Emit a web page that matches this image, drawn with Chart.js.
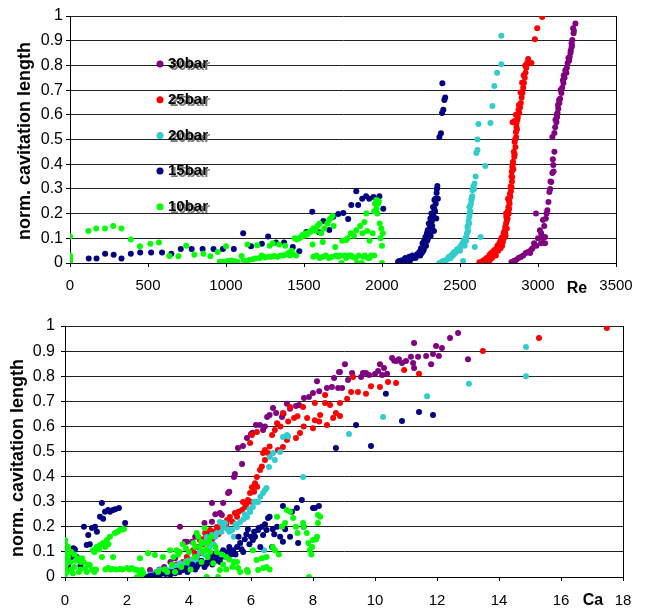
<!DOCTYPE html>
<html>
<head>
<meta charset="utf-8">
<script src="https://cdn.jsdelivr.net/npm/chart.js@4.4.1/dist/chart.umd.min.js"></script>
<style>
  html, body { margin: 0; padding: 0; background: #fff; }
  .box { position: absolute; left: 0; width: 645px; height: 305px; }
  #topBox { top: 0; }
  #botBox { top: 305px; }
</style>
</head>
<body>
<div class="box" id="topBox"><canvas id="reChart"></canvas></div>
<div class="box" id="botBox"><canvas id="caChart"></canvas></div>
<script>
// Series names and colours, in legend order
const seriesNames = ['30bar', '25bar', '20bar', '15bar', '10bar'];
const seriesColors = ['#800080', '#ff0000', '#33cccc', '#000080', '#00ff00'];

// Tick labels
const yTicks = [0, 0.1, 0.2, 0.3, 0.4, 0.5, 0.6, 0.7, 0.8, 0.9, 1];
const reTicks = [0, 500, 1000, 1500, 2000, 2500, 3000, 3500];
const caTicks = [0, 2, 4, 6, 8, 10, 12, 14, 16, 18];

// Top chart: norm. cavitation length vs Re
const re30 = [[2830,0.004],[2845,0.008],[2860,0.012],[2875,0.02],[2890,0.024],[2905,0.03],[2922,0.04],[2935,0.045],[2955,0.053],[2965,0.06],[2975,0.08],[2987,0.2],[3000,0.1],[3012,0.133],[3020,0.12],[3032,0.174],[3040,0.15],[3045,0.105],[3045,0.08],[3060,0.214],[3067,0.247],[3073,0.287],[3078,0.3],[3085,0.328],[3092,0.364],[3098,0.397],[3105,0.45],[3092,0.51],[3105,0.526],[3110,0.55],[3118,0.57],[3122,0.59],[3125,0.607],[3130,0.625],[3137,0.648],[3142,0.665],[3150,0.688],[3155,0.71],[3163,0.729],[3170,0.75],[3182,0.77],[3185,0.79],[3190,0.81],[3200,0.82],[3203,0.834],[3208,0.85],[3215,0.875],[3215,0.89],[3220,0.903],[3228,0.93],[3225,0.95],[3240,0.97],
    [3050,0.18],[3055,0.2],[3080,0.33],[3095,0.42],[3100,0.37],[3112,0.58],[3120,0.6],[3128,0.64],[3135,0.66],[3145,0.7],[3160,0.74],[3165,0.76],[3175,0.78],[3195,0.83],[3210,0.86],[3218,0.88],[3230,0.94],[3020,0.08],[3030,0.1],[2990,0.07],[2950,0.04]];
const re25 = [[2624,0.003],[2635,0.0],[2645,0.008],[2655,0.012],[2660,0.005],[2670,0.02],[2678,0.015],[2688,0.032],[2695,0.025],[2700,0.04],[2710,0.045],[2720,0.053],[2725,0.04],[2735,0.06],[2740,0.07],[2752,0.08],[2755,0.065],[2760,0.09],[2765,0.1],[2772,0.105],[2775,0.085],[2780,0.12],[2785,0.13],[2790,0.146],[2792,0.11],[2795,0.16],[2797,0.186],[2800,0.17],[2803,0.2],[2806,0.21],[2810,0.227],[2815,0.25],[2818,0.24],[2822,0.267],[2826,0.29],[2830,0.308],[2833,0.33],[2835,0.348],[2832,0.37],[2835,0.389],[2840,0.41],[2848,0.43],[2845,0.45],[2855,0.47],[2850,0.49],[2860,0.51],[2858,0.53],[2862,0.55],[2862,0.567],[2837,0.57],[2850,0.575],[2870,0.59],[2880,0.607],[2875,0.62],[2885,0.63],[2890,0.648],[2895,0.67],[2900,0.688],[2905,0.71],[2910,0.729],[2915,0.75],[2920,0.77],[2925,0.79],[2930,0.81],[2937,0.826],[2958,0.81],[2980,0.906],[2995,0.95],[3027,0.996],
    [2805,0.18],[2812,0.2],[2815,0.22],[2820,0.28],[2825,0.31],[2830,0.35],[2838,0.4],[2842,0.38],[2850,0.44],[2853,0.5],[2865,0.54],[2868,0.58],[2858,0.6],[2845,0.57],[2878,0.64],[2888,0.69],[2898,0.73],[2908,0.76],[2918,0.8],[2790,0.12],[2782,0.1],[2770,0.07],[2760,0.06],[2745,0.05],[2730,0.03],[2705,0.02],[2690,0.01],[2665,0.0],[2800,0.14],[2795,0.2],[2808,0.26]];
const re20 = [[2368,0.0],[2380,0.003],[2390,0.008],[2400,0.005],[2410,0.012],[2420,0.015],[2430,0.025],[2440,0.02],[2450,0.035],[2462,0.045],[2470,0.04],[2480,0.055],[2494,0.06],[2500,0.05],[2510,0.07],[2516,0.08],[2520,0.008],[2525,0.09],[2530,0.07],[2535,0.1],[2540,0.105],[2545,0.12],[2548,0.146],[2552,0.13],[2555,0.17],[2560,0.187],[2562,0.2],[2560,0.227],[2566,0.21],[2570,0.24],[2573,0.255],[2578,0.27],[2580,0.295],[2585,0.31],[2593,0.322],[2600,0.35],[2595,0.065],[2632,0.105],[2605,0.445],[2612,0.457],[2612,0.5],[2618,0.563],[2662,0.393],[2695,0.567],[2708,0.636],[2720,0.717],[2738,0.77],[2765,0.805],[2765,0.92],
    [2540,0.09],[2550,0.15],[2558,0.16],[2565,0.23],[2575,0.26],[2590,0.3],[2505,0.07],[2485,0.05],[2455,0.03],[2425,0.02],[2395,0.0]];
const re15 = [[0,0.0],[120,0.018],[170,0.018],[225,0.037],[280,0.033],[330,0.018],[390,0.037],[450,0.043],[520,0.043],[590,0.043],[650,0.037],[710,0.057],[780,0.057],[850,0.057],[920,0.057],[980,0.057],[1050,0.057],[1110,0.12],[1160,0.068],[1230,0.078],[1270,0.107],[1320,0.083],[1372,0.083],[1428,0.065],[1470,0.048],[1515,0.126],[1553,0.207],[1597,0.125],[1624,0.17],[1662,0.134],[1688,0.187],[1720,0.198],[1752,0.202],[1783,0.178],[1803,0.235],[1835,0.29],[1847,0.235],[1873,0.26],[1898,0.27],[1918,0.26],[1945,0.267],[1983,0.27],[2008,0.22],[2103,0.005],[2111,0.008],[2125,0.01],[2143,0.015],[2150,0.02],[2160,0.012],[2175,0.025],[2185,0.02],[2195,0.03],[2207,0.025],[2215,0.02],[2225,0.035],[2239,0.045],[2245,0.03],[2250,0.06],[2260,0.08],[2265,0.05],[2270,0.09],[2278,0.105],[2282,0.07],[2288,0.12],[2293,0.133],[2296,0.1],[2300,0.16],[2305,0.14],[2310,0.18],[2312,0.11],[2317,0.2],[2320,0.17],[2322,0.15],[2327,0.227],[2330,0.19],[2333,0.13],[2336,0.255],[2340,0.21],[2344,0.24],[2348,0.18],[2350,0.283],[2355,0.312],[2358,0.26],[2368,0.51],[2378,0.525],[2385,0.607],[2393,0.62],[2400,0.66],[2405,0.67],[2387,0.728],
    [2290,0.09],[2300,0.12],[2315,0.16],[2325,0.2],[2335,0.22],[2342,0.26],[2352,0.3],[2270,0.06],[2255,0.04],[2230,0.03],[2200,0.02],[2180,0.01],[2140,0.005]];
const re10 = [[0,0.107],[0,0.03],[0,0.02],[0,0.01],[0,0.0],[0,0.025],[118,0.13],[168,0.14],[224,0.14],[277,0.15],[330,0.14],[390,0.095],[448,0.068],[515,0.078],[570,0.083],[637,0.028],[695,0.027],[745,0.07],[797,0.033],[855,0.037],[900,0.027],[947,0.045],[1000,0.068],[960,0.005],[985,0.005],[1010,0.008],[1035,0.01],[1055,0.007],[1075,0.003],[1100,0.028],[1115,0.01],[1130,0.005],[1137,0.075],[1150,0.012],[1170,0.015],[1190,0.018],[1200,0.072],[1215,0.02],[1230,0.03],[1250,0.022],[1270,0.025],[1280,0.07],[1290,0.025],[1300,0.08],[1310,0.028],[1330,0.025],[1340,0.075],[1350,0.03],[1370,0.03],[1380,0.07],[1390,0.035],[1400,0.04],[1410,0.03],[1420,0.05],[1430,0.035],[1440,0.1],[1450,0.03],[1455,0.095],[1470,0.1],[1480,0.105],[1492,0.113],[1500,0.11],[1510,0.12],[1520,0.115],[1535,0.125],[1545,0.13],[1555,0.075],[1560,0.14],[1575,0.13],[1585,0.15],[1600,0.16],[1610,0.12],[1620,0.085],[1630,0.14],[1640,0.03],[1650,0.16],[1662,0.174],[1670,0.18],[1683,0.19],[1690,0.15],[1700,0.065],[1706,0.03],[1720,0.025],[1740,0.0],[1745,0.09],[1760,0.03],[1770,0.093],[1780,0.1],[1790,0.03],[1800,0.12],[1810,0.025],[1820,0.11],[1835,0.133],[1840,0.0],[1850,0.03],[1860,0.15],[1870,0.0],[1875,0.12],[1887,0.166],[1890,0.03],[1900,0.2],[1905,0.13],[1910,0.02],[1920,0.09],[1930,0.03],[1940,0.12],[1950,0.21],[1955,0.24],[1963,0.255],[1965,0.22],[1970,0.2],[1975,0.24],[1980,0.25],[1985,0.16],[1990,0.1],[1995,0.14],[2000,0.07],[2000,0.0],[2005,0.12],[1560,0.025],[1580,0.03],[1600,0.02],[1620,0.025],[1660,0.02],[1680,0.025],[1730,0.03],[1770,0.02],[1800,0.03],[1830,0.02],[1880,0.025],[1920,0.02],[1950,0.03]];

// Bottom chart: norm. cavitation length vs Ca
const ca30 = [[2.74,0.028],[2.85,0.01],[2.95,0.02],[3.05,0.03],[3.2,0.04],[3.4,0.06],[3.55,0.075],[3.71,0.2],[3.87,0.14],[3.93,0.14],[4.1,0.14],[4.2,0.16],[4.3,0.12],[4.5,0.215],[4.6,0.17],[4.74,0.22],[4.74,0.295],[4.85,0.25],[5.0,0.255],[5.06,0.247],[5.1,0.295],[5.26,0.335],[5.3,0.34],[5.45,0.398],[5.48,0.41],[5.58,0.514],[5.71,0.45],[5.74,0.522],[5.87,0.554],[6.0,0.57],[6.05,0.575],[6.16,0.606],[6.29,0.606],[6.39,0.586],[6.45,0.6],[6.52,0.637],[6.6,0.645],[6.71,0.673],[6.81,0.653],[7.0,0.637],[7.05,0.65],[7.16,0.69],[7.26,0.67],[7.45,0.681],[7.55,0.685],[7.71,0.713],[7.87,0.717],[8.0,0.733],[8.13,0.78],[8.2,0.74],[8.45,0.753],[8.61,0.757],[8.68,0.793],[8.81,0.753],[8.84,0.817],[8.87,0.817],[8.94,0.753],[9.03,0.848],[9.13,0.785],[9.26,0.813],[9.55,0.797],[9.61,0.813],[9.71,0.813],[9.81,0.805],[10.0,0.809],[10.1,0.821],[10.16,0.848],[10.23,0.805],[10.29,0.833],[10.39,0.81],[10.55,0.873],[10.62,0.862],[10.7,0.861],[10.77,0.868],[10.87,0.853],[11.0,0.861],[11.16,0.877],[11.23,0.853],[11.26,0.932],[11.26,0.833],[11.39,0.877],[11.65,0.88],[11.81,0.848],[11.87,0.888],[11.97,0.92],[12.06,0.88],[12.16,0.912],[12.42,0.952],[12.68,0.972],[13.0,0.868]];
const ca25 = [[2.9,0.0],[3.0,0.005],[3.06,0.015],[3.15,0.02],[3.25,0.03],[3.35,0.025],[3.49,0.04],[3.6,0.05],[3.7,0.045],[3.8,0.06],[3.93,0.08],[4.0,0.07],[4.13,0.107],[4.2,0.09],[4.26,0.12],[4.35,0.147],[4.35,0.095],[4.45,0.13],[4.52,0.175],[4.6,0.16],[4.68,0.187],[4.75,0.15],[4.9,0.199],[4.95,0.17],[5.06,0.215],[5.15,0.2],[5.23,0.227],[5.32,0.239],[5.4,0.22],[5.48,0.255],[5.6,0.26],[5.71,0.267],[5.74,0.299],[5.81,0.279],[5.9,0.307],[5.97,0.335],[6.0,0.3],[6.03,0.358],[6.13,0.374],[6.19,0.398],[6.29,0.426],[6.45,0.466],[6.39,0.494],[6.45,0.506],[6.55,0.494],[6.87,0.506],[7.03,0.518],[7.16,0.546],[5.97,0.534],[6.03,0.566],[6.19,0.578],[6.68,0.566],[6.77,0.586],[6.84,0.613],[7.03,0.653],[7.26,0.677],[7.39,0.633],[7.45,0.554],[7.58,0.574],[7.68,0.677],[7.81,0.633],[8.0,0.593],[8.06,0.625],[8.06,0.693],[8.23,0.645],[8.39,0.693],[8.39,0.725],[8.45,0.606],[8.55,0.685],[8.65,0.633],[8.74,0.653],[8.87,0.641],[8.87,0.693],[9.1,0.71],[9.23,0.737],[9.29,0.797],[9.45,0.737],[9.71,0.73],[9.87,0.76],[10.16,0.757],[10.42,0.777],[10.68,0.773],[10.94,0.825],[11.42,0.81],[13.48,0.9],[15.29,0.952],[17.48,0.992],
    [4.4,0.15],[4.55,0.16],[4.8,0.18],[5.0,0.19],[5.2,0.21],[5.55,0.24],[5.85,0.29],[6.1,0.34],[6.2,0.36],[6.35,0.44],[6.6,0.52],[6.95,0.6],[7.2,0.62],[7.5,0.64],[7.7,0.6],[8.2,0.62]];
const ca20 = [[2.65,0.0],[2.75,0.01],[2.85,0.005],[2.95,0.02],[3.06,0.028],[3.15,0.02],[3.25,0.03],[3.35,0.025],[3.45,0.04],[3.55,0.035],[3.71,0.055],[3.8,0.045],[3.9,0.06],[4.0,0.05],[4.13,0.068],[4.2,0.06],[4.26,0.08],[4.35,0.1],[4.45,0.135],[4.5,0.09],[4.57,0.159],[4.65,0.12],[4.74,0.167],[4.8,0.13],[4.9,0.175],[5.0,0.219],[5.05,0.18],[5.16,0.215],[5.25,0.19],[5.39,0.187],[5.45,0.16],[5.55,0.199],[5.65,0.219],[5.65,0.127],[5.75,0.23],[5.87,0.239],[5.97,0.259],[6.06,0.279],[6.15,0.3],[6.23,0.299],[6.39,0.335],[6.42,0.107],[6.45,0.347],[6.5,0.355],[6.58,0.438],[6.61,0.478],[6.71,0.494],[6.77,0.466],[6.94,0.498],[7.03,0.558],[7.16,0.566],[7.2,0.56],[7.68,0.398],[9.16,0.57],[10.26,0.637],[11.68,0.72],[13.03,0.77],[14.87,0.8],[14.87,0.916],
    [4.6,0.14],[4.85,0.16],[5.1,0.2],[5.3,0.18],[5.5,0.21],[5.8,0.25],[5.95,0.27],[6.1,0.3],[6.3,0.32],[4.1,0.07],[3.95,0.065],[3.6,0.045]];
const ca15 = [[0,0.02],[0,0.035],[0,0.05],[0.05,0.03],[0.1,0.045],[0.15,0.06],[0.2,0.08],[0.27,0.115],[0.32,0.11],[0.38,0.08],[0.45,0.07],[0.5,0.045],[0.61,0.2],[0.7,0.127],[0.75,0.167],[0.8,0.13],[0.87,0.195],[0.97,0.2],[1.03,0.18],[1.13,0.24],[1.19,0.295],[1.23,0.232],[1.29,0.26],[1.39,0.267],[1.45,0.26],[1.55,0.267],[1.62,0.27],[1.74,0.275],[1.94,0.215],[2.65,0.0],[2.75,0.005],[2.85,0.003],[2.95,0.01],[3.05,0.008],[3.16,0.015],[3.25,0.012],[3.35,0.02],[3.49,0.02],[3.6,0.025],[3.7,0.02],[3.81,0.028],[3.9,0.035],[4.0,0.03],[4.13,0.04],[4.2,0.03],[4.3,0.05],[4.45,0.055],[4.5,0.04],[4.6,0.06],[4.68,0.067],[4.75,0.05],[4.8,0.09],[4.9,0.08],[5.0,0.06],[5.1,0.107],[5.2,0.08],[5.3,0.12],[5.42,0.107],[5.5,0.09],[5.6,0.16],[5.65,0.135],[5.75,0.1],[5.8,0.15],[5.9,0.19],[5.95,0.13],[6.06,0.147],[6.13,0.16],[6.23,0.187],[6.25,0.195],[6.3,0.12],[6.39,0.167],[6.5,0.187],[6.55,0.235],[6.6,0.24],[6.68,0.12],[6.75,0.17],[6.84,0.2],[6.94,0.16],[7.03,0.14],[7.03,0.283],[7.1,0.19],[7.26,0.16],[7.32,0.26],[7.48,0.275],[7.52,0.135],[7.64,0.307],[7.7,0.2],[8.0,0.275],[8.06,0.275],[8.19,0.283],[8.74,0.514],[9.39,0.606],[9.87,0.522],[10.35,0.73],[10.87,0.622],[11.42,0.657],[11.87,0.645],
    [3.4,0.01],[3.55,0.015],[3.75,0.03],[3.95,0.02],[4.1,0.05],[4.25,0.04],[4.4,0.065],[4.55,0.05],[4.7,0.08],[4.85,0.065],[5.05,0.08],[5.25,0.1],[5.35,0.09],[5.55,0.12],[5.7,0.11],[5.85,0.17],[6.0,0.16],[6.1,0.18],[6.35,0.2],[6.45,0.21],[6.7,0.19]];
const ca10 = [[0,0.147],[0,0.135],[0,0.107],[0.02,0.09],[0,0.07],[0.03,0.05],[0,0.035],[0.05,0.02],[0,0.01],[0.1,0.08],[0.15,0.06],[0.2,0.03],[0.25,0.015],[0.3,0.04],[0.35,0.065],[0.4,0.075],[0.45,0.02],[0.5,0.03],[0.55,0.075],[0.6,0.06],[0.65,0.035],[0.7,0.02],[0.75,0.05],[0.8,0.048],[0.87,0.03],[0.9,0.028],[0.95,0.02],[1.0,0.03],[0.9,0.107],[0.95,0.1],[1.02,0.12],[1.1,0.11],[1.13,0.127],[1.19,0.08],[1.23,0.135],[1.3,0.12],[1.35,0.147],[1.4,0.13],[1.45,0.16],[1.55,0.08],[1.61,0.175],[1.7,0.18],[1.77,0.187],[1.85,0.19],[1.9,0.19],[1.3,0.03],[1.39,0.036],[1.47,0.03],[1.55,0.032],[1.65,0.03],[1.77,0.032],[1.85,0.03],[2.0,0.036],[2.08,0.03],[2.16,0.036],[2.25,0.03],[2.32,0.028],[2.4,0.02],[2.48,0.028],[2.32,0.0],[2.45,0.0],[2.52,0.015],[2.42,0.075],[2.68,0.095],[2.9,0.088],[3.0,0.02],[3.16,0.08],[3.2,0.03],[3.3,0.02],[3.39,0.107],[3.45,0.05],[3.55,0.02],[3.6,0.107],[3.65,0.09],[3.75,0.04],[3.8,0.13],[3.9,0.115],[3.95,0.06],[4.0,0.1],[4.05,0.03],[4.14,0.135],[4.2,0.08],[4.25,0.175],[4.3,0.16],[4.35,0.12],[4.4,0.06],[4.45,0.1],[4.5,0.195],[4.55,0.11],[4.57,0.135],[4.57,0.0],[4.6,0.08],[4.68,0.1],[4.7,0.16],[4.78,0.055],[4.85,0.12],[4.94,0.0],[5.0,0.028],[5.05,0.09],[5.1,0.05],[5.2,0.03],[5.3,0.07],[5.4,0.04],[5.55,0.06],[5.58,0.036],[5.65,0.02],[5.9,0.02],[5.87,0.028],[6.06,0.107],[6.18,0.068],[6.23,0.028],[6.35,0.075],[6.4,0.036],[6.5,0.04],[6.5,0.08],[6.6,0.03],[6.7,0.12],[6.77,0.107],[6.84,0.24],[6.9,0.09],[7.0,0.2],[7.1,0.215],[7.15,0.267],[7.26,0.26],[7.36,0.235],[7.45,0.2],[7.5,0.175],[7.68,0.215],[7.7,0.2],[7.8,0.175],[7.85,0.135],[7.87,0.0],[7.9,0.108],[7.95,0.09],[7.97,0.12],[8.0,0.147],[8.1,0.15],[8.13,0.16],[8.16,0.215],[8.16,0.247],[8.23,0.24],
    [4.2,0.12],[4.4,0.14],[4.65,0.14],[4.9,0.1],[5.2,0.08],[5.45,0.06],[3.5,0.08],[3.7,0.1],[0.2,0.1],[0.3,0.09],[0.5,0.06],[0.1,0.12]];

const fontFamily = '"Liberation Sans", Arial, sans-serif';

// Draws axis captions and the in-plot legend
const extraTextPlugin = {
    id: 'extraText',
    afterDraw(chart, args, opts) {
        const ctx = chart.ctx;
        ctx.save();
        ctx.fillStyle = '#000';
        ctx.textBaseline = 'middle';
        (opts.items || []).forEach(it => {
            ctx.save();
            ctx.font = it.font;
            ctx.textAlign = 'center';
            ctx.translate(it.x, it.y);
            if (it.rotate) ctx.rotate(it.rotate * Math.PI / 180);
            ctx.fillText(it.text, 0, 0);
            ctx.restore();
        });
        if (opts.legend) {
            const lg = opts.legend;
            seriesNames.forEach((name, i) => {
                const y = lg.y + i * lg.gap;
                ctx.fillStyle = seriesColors[i];
                ctx.beginPath();
                ctx.arc(lg.x, y, 3.5, 0, Math.PI * 2);
                ctx.fill();
                ctx.font = 'bold 15px ' + fontFamily;
                ctx.textAlign = 'left';
                ctx.fillStyle = '#777';
                ctx.fillText(name, lg.x + 10, y + 2);
                ctx.fillStyle = '#000';
                ctx.fillText(name, lg.x + 8, y);
            });
        }
        ctx.restore();
    }
};

function toPoints(arr) {
    return arr.map(p => ({ x: p[0], y: p[1] }));
}

function makeChart(canvasId, series, xTicks, box) {
    const xMax = xTicks[xTicks.length - 1];
    // first dataset is drawn last, so reverse to keep 10bar on top
    const datasets = series.map((s, i) => ({
        label: seriesNames[i],
        data: toPoints(s),
        backgroundColor: seriesColors[i],
        borderWidth: 0,
        pointRadius: 3,
        pointHoverRadius: 3
    })).reverse();

    return new Chart(document.getElementById(canvasId), {
        type: 'scatter',
        data: { datasets: datasets },
        options: {
            responsive: true,
            maintainAspectRatio: false,
            animation: false,
            events: [],
            layout: { padding: { top: box.top, right: box.right, left: 0, bottom: 0 } },
            plugins: {
                legend: { display: false },
                tooltip: { enabled: false },
                extraText: { items: box.items, legend: box.legend }
            },
            scales: {
                x: {
                    type: 'linear',
                    min: 0,
                    max: xMax,
                    afterBuildTicks: s => { s.ticks = xTicks.map(v => ({ value: v })); },
                    afterFit: s => { s.height = box.xHeight; },
                    border: { color: '#000', width: 1 },
                    grid: {
                        color: c => (c.tick && c.tick.value === xMax) ? '#000' : 'rgba(0,0,0,0)',
                        tickColor: '#000',
                        tickLength: 4
                    },
                    ticks: {
                        color: '#000',
                        padding: box.xPad,
                        maxRotation: 0,
                        autoSkip: false,
                        font: { family: fontFamily, size: 15 },
                        callback: v => String(v)
                    }
                },
                y: {
                    type: 'linear',
                    min: 0,
                    max: 1,
                    afterBuildTicks: s => { s.ticks = yTicks.map(v => ({ value: v })); },
                    afterFit: s => { s.width = box.yWidth; },
                    border: { color: '#000', width: 1 },
                    grid: { color: '#222', tickColor: '#000', tickLength: 4 },
                    ticks: {
                        color: '#000',
                        padding: box.yPad,
                        font: { family: fontFamily, size: 16 },
                        callback: v => String(Math.round(v * 10) / 10)
                    }
                }
            }
        },
        plugins: [extraTextPlugin]
    });
}

makeChart('reChart', [re30, re25, re20, re15, re10], reTicks, {
    top: 16, right: 29, xHeight: 42, yWidth: 70, xPad: 10, yPad: 3,
    items: [
        { text: 'norm. cavitation length', x: 25, y: 141, rotate: -90, font: 'bold 18px ' + fontFamily },
        { text: 'Re', x: 577, y: 289, font: 'bold 16px ' + fontFamily }
    ],
    legend: { x: 160, y: 64, gap: 35.7 }
});

makeChart('caChart', [ca30, ca25, ca20, ca15, ca10], caTicks, {
    top: 21, right: 22, xHeight: 33, yWidth: 65, xPad: 11, yPad: 6,
    items: [
        { text: 'norm. cavitation length', x: 18, y: 153, rotate: -90, font: 'bold 18px ' + fontFamily },
        { text: 'Ca', x: 593, y: 296, font: 'bold 16px ' + fontFamily }
    ]
});
</script>
</body>
</html>
